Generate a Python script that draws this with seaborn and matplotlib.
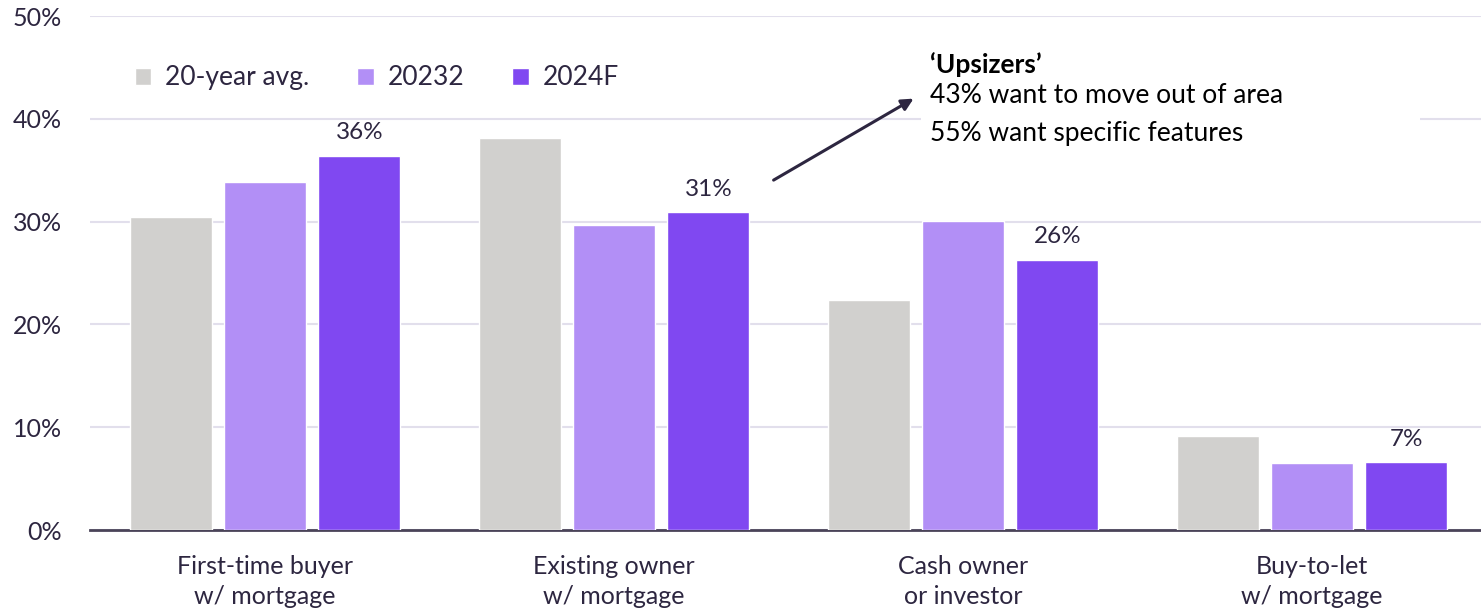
import pandas as pd
import numpy as np
import matplotlib.pyplot as plt
import seaborn as sns
from matplotlib.patches import Rectangle

# Data
categories = ['First-time buyer\nw/ mortgage', 'Existing owner\nw/ mortgage',
              'Cash owner\nor investor', 'Buy-to-let\nw/ mortgage']
series = ['20-year avg.', '20232', '2024F']
avg_20y = [0.304, 0.381, 0.224, 0.091]
share_2023 = [0.339, 0.297, 0.301, 0.065]
share_2024f = [0.364, 0.309, 0.263, 0.066]
colors = ['#d1d0ce', '#b28ff6', '#8048f1']

df = pd.DataFrame({
    'category': categories * 3,
    'series': np.repeat(series, len(categories)),
    'value': avg_20y + share_2023 + share_2024f,
})

sns.set_style('white')
plt.rcParams['font.family'] = ['Lato', 'DejaVu Sans']
text_col = '#2d2640'

fig = plt.figure(figsize=(14.81, 6.10), dpi=100)
ax = fig.add_axes([90 / 1481, 1 - 530 / 610, 1 - 90 / 1481, 514 / 610])

sns.barplot(data=df, x='category', y='value', hue='series', palette=colors,
            width=0.81, gap=0.13, saturation=1, ax=ax, zorder=3)

ax.set_ylim(0, 0.5)
ax.set_xlim(-0.502, 3.484)
ax.set_yticks(np.arange(0, 0.51, 0.1))
ax.set_yticklabels([f'{int(round(t * 100))}%' for t in ax.get_yticks()])
ax.yaxis.grid(True, color='#e2dfec', linewidth=1.5, zorder=0)
ax.set_axisbelow(True)
for s in ['top', 'right', 'left']:
    ax.spines[s].set_visible(False)
ax.spines['bottom'].set_color('#4a4358')
ax.spines['bottom'].set_linewidth(2)
ax.tick_params(axis='x', length=0, labelsize=18, colors=text_col, pad=18)
ax.tick_params(axis='y', length=0, labelsize=18, colors=text_col, pad=20)
for lab in ax.get_xticklabels():
    lab.set_linespacing(1.35)
ax.set_xlabel('')
ax.set_ylabel('')

# value labels on the forecast bars only
last = ax.containers[2]
ax.bar_label(last, labels=[f'{v * 100:.0f}%' for v in share_2024f],
             padding=9, fontsize=17.5, color=text_col)

# legend
ax.legend(loc='upper left', bbox_to_anchor=(0.015, 0.95), ncol=3, frameon=False,
          fontsize=19, handlelength=0.62, handleheight=0.62, handletextpad=0.55,
          columnspacing=1.8, labelcolor=text_col)

# annotation
ax.add_patch(Rectangle((1.88, 0.37), 1.43, 0.06, facecolor='white',
                       edgecolor='none', zorder=1))
ax.annotate('', xy=(1.865, 0.421), xytext=(1.45, 0.339),
            arrowprops=dict(arrowstyle='-|>,head_length=0.7,head_width=0.35',
                            color='#2d2640', lw=2.2), zorder=4)
ax.text(1.905, 0.453, '\u2018Upsizers\u2019', fontsize=19, fontweight='bold',
        color='black', va='center', zorder=4)
ax.text(1.905, 0.423, '43% want to move out of area', fontsize=19,
        color='black', va='center', zorder=4)
ax.text(1.905, 0.386, '55% want specific features', fontsize=19,
        color='black', va='center', zorder=4)

plt.savefig('out.png', dpi=100)
